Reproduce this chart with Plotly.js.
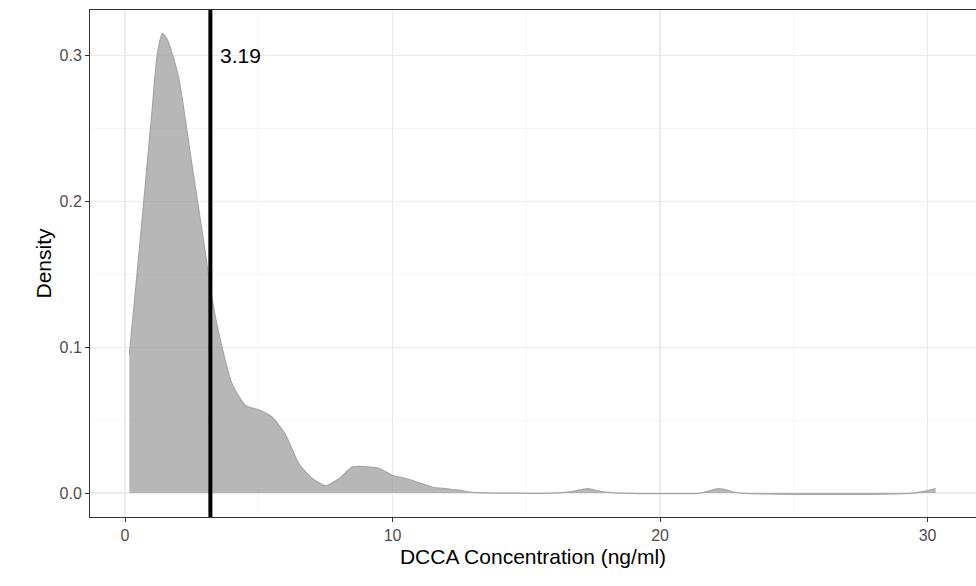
<!DOCTYPE html>
<html><head><script src="https://cdn.plot.ly/plotly-3.0.1.min.js"></script>
<style>body{margin:0}</style></head><body>
<div id="chart" style="width:976px;height:586px"></div>
<script>
const concX = [0.16,0.5,0.8,1.0,1.2,1.4,1.6,2.0,2.5,3.0,3.19,3.5,4.0,4.5,5.0,5.5,6.0,6.5,7.0,7.5,8.0,8.5,9.0,9.5,10.0,10.5,11,11.5,12,12.5,13,14,16,16.7,17.3,17.8,18.5,21.5,22.2,23,29.5,30.3];
const densY = [0.095,0.16,0.22,0.26,0.3,0.315,0.31,0.285,0.225,0.165,0.14,0.11,0.075,0.06,0.057,0.052,0.04,0.02,0.01,0.005,0.01,0.018,0.018,0.017,0.012,0.01,0.007,0.004,0.003,0.002,0.0005,0,0,0.001,0.003,0.001,0,0,0.003,0,0,0.003];
const cutoff = 3.19;

const traces = [
  { x: concX, y: densY, type: 'scatter', mode: 'lines', fill: 'tozeroy',
    fillcolor: 'rgba(153,153,153,0.7)', line: { color: '#a6a6a6', width: 1.2, shape: 'spline', smoothing: 0.6 }, hoverinfo: 'skip' },
  { x: [cutoff, cutoff], y: [-0.02, 0.34], type: 'scatter', mode: 'lines',
    line: { color: '#000', width: 4 }, hoverinfo: 'skip' }
];

const axisBase = {
  showline: true, linecolor: '#333', linewidth: 1, mirror: true, zeroline: false,
  gridcolor: '#ebebeb', gridwidth: 1.2, ticks: 'outside', ticklen: 4, tickcolor: '#333',
  tickfont: { family: 'Liberation Sans, Arial', size: 16, color: '#4d4d4d' },
  minor: { showgrid: true, gridcolor: '#f4f4f4', gridwidth: 0.8 }
};

const layout = {
  paper_bgcolor: '#fff', plot_bgcolor: '#fff', showlegend: false,
  margin: { t: 10, b: 69, l: 90, r: 0 },
  font: { family: 'Liberation Sans, Arial', color: '#000' },
  xaxis: { ...axisBase, range: [-1.31, 31.81], tickvals: [0, 10, 20, 30], minor: { ...axisBase.minor, tickvals: [5, 15, 25] },
    title: { text: 'DCCA Concentration (ng/ml)', font: { size: 21, color: '#000' }, standoff: 6 } },
  yaxis: { ...axisBase, range: [-0.0164, 0.331], tickvals: [0, 0.1, 0.2, 0.3], ticktext: ['0.0', '0.1', '0.2', '0.3'],
    minor: { ...axisBase.minor, tickvals: [0.05, 0.15, 0.25] },
    title: { text: 'Density', font: { size: 21, color: '#000' }, standoff: 2 } },
  annotations: [{ x: cutoff, y: 0.3, xref: 'x', yref: 'y', text: '3.19', showarrow: false,
    xanchor: 'left', xshift: 8, font: { size: 21, color: '#000' } }]
};

Plotly.newPlot('chart', traces, layout, { displayModeBar: false, staticPlot: true });
</script></body></html>
